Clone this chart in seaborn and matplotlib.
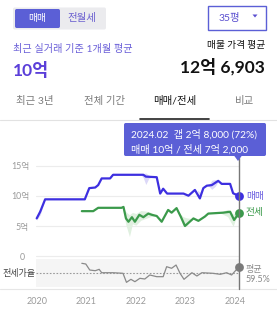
import matplotlib
matplotlib.use("Agg")
import matplotlib.pyplot as plt
import seaborn as sns
import pandas as pd
import numpy as np
from matplotlib.patches import FancyBboxPatch, Rectangle, Polygon
from matplotlib.lines import Line2D
from matplotlib.transforms import blended_transform_factory

# ---------------- data ----------------
sale_dates = [2020.00, 2020.07, 2020.17, 2020.97, 2021.06, 2021.18, 2021.24, 2021.31, 2021.48,
              2021.54, 2022.15, 2022.20, 2022.42, 2022.49, 2022.55, 2022.63, 2022.96, 2023.06,
              2023.19, 2023.29, 2023.36, 2023.43, 2023.53, 2023.66, 2023.73, 2023.90, 2023.96, 2024.08]
sale_values = [6.3, 7.4, 9.45, 9.45, 11.3, 11.4, 11.8, 12.9, 12.9,
               13.5, 13.5, 13.2, 13.1, 10.4, 11.2, 10.4, 10.4, 10.05,
               11.0, 9.6, 11.3, 11.7, 11.8, 12.5, 12.0, 12.0, 10.45, 10.0]

jeonse_dates = [2020.91, 2021.14, 2021.24, 2021.71, 2021.75, 2021.80, 2021.85, 2021.92, 2021.98,
                2022.07, 2022.15, 2022.25, 2022.32, 2022.42, 2022.52, 2022.65, 2022.72, 2022.82,
                2022.91, 2022.99, 2023.16, 2023.26, 2023.39, 2023.46, 2023.76, 2023.90, 2023.98, 2024.08]
jeonse_values = [7.5, 7.5, 8.05, 8.05, 8.2, 6.3, 5.75, 6.5, 5.75,
                 6.9, 6.5, 7.1, 6.9, 6.7, 5.75, 7.7, 7.25, 8.0,
                 6.5, 5.05, 6.3, 5.9, 6.6, 7.1, 7.25, 7.4, 6.05, 7.2]

ratio_dates = [2020.91, 2020.99, 2021.07, 2021.18, 2021.26, 2021.31, 2021.54, 2021.74, 2021.81,
               2021.90, 2021.98, 2022.08, 2022.18, 2022.28, 2022.42, 2022.55, 2022.62, 2022.72,
               2022.81, 2022.89, 2022.97, 2023.13, 2023.23, 2023.33, 2023.55, 2023.70, 2023.83,
               2023.93, 2024.08]
ratio_values = [78.4, 77.1, 65.7, 64.4, 67.0, 60.6, 60.6, 59.5, 42.4,
                48.1, 43.6, 50.0, 48.7, 56.3, 53.1, 53.1, 72.0, 69.0,
                75.2, 59.5, 48.1, 60.6, 54.4, 60.6, 59.5, 57.6, 60.6,
                56.3, 72.0]
ratio_avg = 59.5

sale_band_dates = [[2020.00, 2020.07, 2020.17],
                   [2022.10, 2022.15, 2022.20, 2022.26, 2022.32],
                   [2023.24, 2023.29, 2023.34],
                   [2023.46, 2023.53, 2023.60, 2023.66]]
sale_band_low = [[6.0, 6.9, 9.45],
                 [13.5, 13.0, 11.9, 12.9, 13.1],
                 [10.8, 9.5, 10.9],
                 [11.7, 11.1, 11.6, 12.4]]
sale_band_high = [[6.6, 7.8, 9.45],
                  [13.5, 13.7, 13.8, 13.4, 13.1],
                  [11.0, 10.6, 11.3],
                  [11.7, 12.6, 12.7, 12.5]]

jeonse_band_dates = [[2021.73, 2021.80, 2021.87, 2021.93, 2022.00, 2022.10, 2022.20, 2022.30, 2022.40],
                     [2022.88, 2022.95, 2023.02, 2023.10],
                     [2023.70, 2023.85, 2023.96, 2024.03]]
jeonse_band_low = [[8.1, 5.2, 3.3, 5.4, 5.2, 6.0, 6.3, 6.6, 6.7],
                   [6.8, 5.0, 5.0, 6.0],
                   [7.2, 6.6, 5.0, 6.6]]
jeonse_band_high = [[8.2, 7.4, 6.9, 7.3, 7.1, 7.6, 7.5, 7.3, 6.8],
                    [7.2, 6.6, 6.4, 6.3],
                    [7.3, 7.8, 7.0, 7.3]]

y_ticks = [5, 10, 15]
y_tick_labels = ["5억", "10억", "15억"]
year_ticks = [2020, 2021, 2022, 2023, 2024]
tabs = ["최근 3년", "전체 기간", "매매/전세", "비교"]

# ---------------- styling ----------------
sns.set_theme(style="white")
plt.rcParams['font.family'] = ['Lato', 'Noto Sans CJK KR', 'DejaVu Sans']

W, H = 277, 311
fig = plt.figure(figsize=(W / 100, H / 100), dpi=100)
fig.patch.set_facecolor("white")

def fx(x):
    return x / W

def fy(y):
    return 1 - y / H

BLUE = "#3d2fe0"
PURPLE = "#5b5fd6"
GREEN = "#3b9a4b"
KR = ['Noto Sans CJK KR', 'DejaVu Sans']
MIX = ['Lato', 'Noto Sans CJK KR', 'DejaVu Sans']

# ---------------- header UI ----------------
fig.patches.append(FancyBboxPatch((fx(13), fy(29.5)), fx(93), 22 / H, boxstyle="round,pad=0,rounding_size=0.006",
                                  transform=fig.transFigure, fc="#ebebee", ec="none"))
fig.patches.append(FancyBboxPatch((fx(15), fy(28)), fx(45), 19 / H, boxstyle="round,pad=0,rounding_size=0.006",
                                  transform=fig.transFigure, fc=PURPLE, ec="none"))
fig.text(fx(37.5), fy(18.5), "매매", color="white", fontsize=7, family=KR, ha="center", va="center")
fig.text(fx(82), fy(18.5), "전월세", color="#6a5fd0", fontsize=7.5, family=KR, ha="center", va="center")

fig.patches.append(Rectangle((fx(207.5), fy(30)), fx(58), 24.5 / H, transform=fig.transFigure,
                             fc="white", ec=PURPLE, lw=1.0))
fig.text(fx(229), fy(18), "35평", color="#5a4fd0", fontsize=7.5, family=MIX, ha="center", va="center")
fig.patches.append(Polygon([(fx(252.5), fy(14.5)), (fx(257.5), fy(14.5)), (fx(255), fy(17.5))],
                           closed=True, transform=fig.transFigure, fc="#5a4fd0", ec="none"))

fig.text(fx(13), fy(49), "최근 실거래 기준 1개월 평균", color="#6a5fd8", fontsize=7.3, family=MIX,
         ha="left", va="center")
fig.text(fx(12.5), fy(70), "10억", color="#5b3fd9", fontsize=12.5, fontweight="bold", family=MIX,
         ha="left", va="center")
fig.text(fx(265), fy(45), "매물 가격 평균", color="#111111", fontsize=7, family=KR, ha="right", va="center")
fig.text(fx(265), fy(67), "12억 6,903", color="#111111", fontsize=12.5, fontweight="bold", family=MIX,
         ha="right", va="center")

tab_x = [35, 105, 174.5, 245]
for t, x in zip(tabs, tab_x):
    sel = (t == "매매/전세")
    fig.text(fx(x), fy(101), t, color="#111111" if sel else "#7a7a7a", fontsize=7.5, family=MIX,
             ha="center", va="center")
fig.add_artist(Line2D([0, 1], [fy(120), fy(120)], transform=fig.transFigure, color="#e2e2e2", lw=0.8))
fig.add_artist(Line2D([fx(140), fx(209)], [fy(119), fy(119)], transform=fig.transFigure, color="#222222", lw=1.2))

# ---------------- main chart ----------------
X0 = 2019.986
X1 = 2024.079
ax = fig.add_axes([fx(36), fy(248), fx(203), 88 / H])
ax.set_xlim(X0, X1)
ax.set_ylim(10 - 52 / 6.06, 10 + 36 / 6.06)
for v in y_ticks:
    ax.axhline(v, color="#ececec", lw=0.8, zorder=0)

for bx, lo, hi in zip(sale_band_dates, sale_band_low, sale_band_high):
    ax.fill_between(bx, lo, hi, color="#dcd8f8", lw=0, zorder=1)
for bx, lo, hi in zip(jeonse_band_dates, jeonse_band_low, jeonse_band_high):
    ax.fill_between(bx, lo, hi, color="#e0f0e0", lw=0, zorder=1)

sale_df = pd.DataFrame({"date": sale_dates, "value": sale_values})
jeonse_df = pd.DataFrame({"date": jeonse_dates, "value": jeonse_values})
sns.lineplot(data=sale_df, x="date", y="value", ax=ax, color=BLUE, lw=1.6, zorder=3)
sns.lineplot(data=jeonse_df, x="date", y="value", ax=ax, color=GREEN, lw=1.6, zorder=3)
for l in ax.get_lines():
    l.set_clip_on(False)
    l.set_solid_joinstyle("round")
ax.scatter([sale_dates[-1]], [sale_values[-1]], s=40, color=BLUE, zorder=5, clip_on=False, lw=0)
ax.scatter([jeonse_dates[-1]], [jeonse_values[-1]], s=40, color=GREEN, zorder=5, clip_on=False, lw=0)

ax.set_yticks(y_ticks)
ax.set_yticklabels(y_tick_labels, family=MIX)
ax.tick_params(axis="y", length=0, pad=5, labelsize=6.3, labelcolor="#9a9a9a")
ax.set_xticks([])
ax.set_xlabel("")
ax.set_ylabel("")
for s in ax.spines.values():
    s.set_visible(False)
ax.patch.set_alpha(0)

fig.text(fx(246), fy(196), "매매", color="#6a5fe0", fontsize=7, family=KR, ha="left", va="center")
fig.text(fx(246), fy(212), "전세", color=GREEN, fontsize=7, family=KR, ha="left", va="center")

# ---------------- ratio panel ----------------
ax2 = fig.add_axes([fx(36), fy(289), fx(203), 37 / H])
ax2.set_xlim(X0, X1)
rmin = ratio_avg + (273.3 - 289) / 0.528
rmax = ratio_avg + (273.3 - 252) / 0.528
ax2.set_ylim(rmin, rmax)
ax2.axhspan(ratio_avg + (273.3 - 287) / 0.528, ratio_avg + (273.3 - 259) / 0.528, color="#f5f5f5", lw=0, zorder=0)
top_grid = ratio_avg + (273.3 - 256) / 0.528
ax2.axhline(top_grid, color="#ececec", lw=0.8, zorder=0)
ax2.axhline(ratio_avg, color="#9a9a9a", lw=0.8, ls=(0, (1.5, 1.5)), zorder=1)
ratio_df = pd.DataFrame({"date": ratio_dates, "value": ratio_values})
sns.lineplot(data=ratio_df, x="date", y="value", ax=ax2, color="#8a8a8a", lw=0.9, zorder=3)
for l in ax2.get_lines():
    l.set_clip_on(False)
ax2.scatter([ratio_dates[-1]], [ratio_values[-1]], s=40, color="#7a7a7a", zorder=5, clip_on=False, lw=0)
ax2.set_yticks([top_grid])
ax2.set_yticklabels(["0"])
ax2.tick_params(axis="y", length=0, pad=8, labelsize=6.3, labelcolor="#9a9a9a")
ax2.set_xticks(year_ticks)
ax2.set_xticklabels([str(y) for y in year_ticks], family=MIX)
ax2.tick_params(axis="x", length=0, pad=6, labelsize=6.5, labelcolor="#9a9a9a")
ax2.set_xlabel("")
ax2.set_ylabel("")
for s in ax2.spines.values():
    s.set_visible(False)
ax2.patch.set_alpha(0)

fig.text(fx(2), fy(273.5), "전세가율", color="#444444", fontsize=6.5, family=KR, ha="left", va="center")
fig.text(fx(246), fy(269.5), "평균", color="#8a8a8a", fontsize=6.5, family=KR, ha="left", va="center")
fig.text(fx(246), fy(279.5), "59.5%", color="#8a8a8a", fontsize=6.5, family=MIX, ha="left", va="center")
fig.add_artist(Line2D([0, 1], [fy(288.8), fy(288.8)], transform=fig.transFigure, color="#e6e6e6", lw=0.8))

# ---------------- cursor line + tooltip ----------------
trans = blended_transform_factory(ax.transData, fig.transFigure)
fig.add_artist(Line2D([sale_dates[-1], sale_dates[-1]], [fy(158), fy(289)], transform=trans,
                      color="#777777", lw=1.0, zorder=2))
fig.patches.append(FancyBboxPatch((fx(124), fy(156)), fx(142), 33 / H, boxstyle="round,pad=0,rounding_size=0.006",
                                  transform=fig.transFigure, fc=PURPLE, ec="none", zorder=6))
fig.patches.append(Polygon([(fx(234), fy(155.5)), (fx(242), fy(155.5)), (fx(238), fy(161))],
                           closed=True, transform=fig.transFigure, fc=PURPLE, ec="none", zorder=6))
fig.text(fx(131), fy(134), "2024.02  갭 2억 8,000 (72%)", color="white", fontsize=7.3, family=MIX,
         ha="left", va="center", zorder=7)
fig.text(fx(131), fy(150), "매매 10억 / 전세 7억 2,000", color="white", fontsize=7.3, family=MIX,
         ha="left", va="center", zorder=7)

fig.savefig("out.png", dpi=100, facecolor="white")
